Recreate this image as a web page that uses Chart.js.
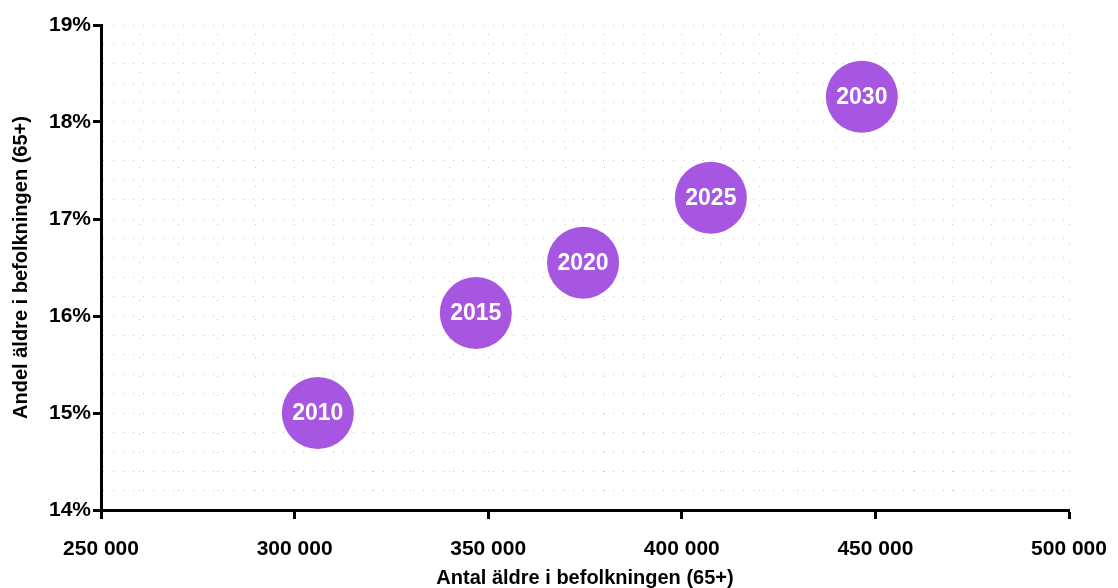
<!DOCTYPE html>
<html>
<head>
<meta charset="utf-8">
<script src="https://cdn.jsdelivr.net/npm/chart.js@4"></script>
<style>
  html, body { margin: 0; padding: 0; background: #fff; }
  #wrap { width: 1118px; height: 588px; }
</style>
</head>
<body>
<div id="wrap"><canvas id="chart"></canvas></div>
<script>
// data
const years = ['2010', '2015', '2020', '2025', '2030'];
const elderlyCount = [306000, 346800, 374500, 407500, 446500];
const elderlyShare = [15.0, 16.03, 16.55, 17.22, 18.26];

const xTitle = 'Antal äldre i befolkningen (65+)';
const yTitle = 'Andel äldre i befolkningen (65+)';

const FONT = '"Liberation Sans", Arial, sans-serif';
const purple = '#a656e0';
const dotGrey = '#c8c8c8';

function spaced(v) {
  return String(v).replace(/\B(?=(\d{3})+(?!\d))/g, ' ');
}

function isMajorX(v) { return v % 50000 === 0; }
function isMajorY(v) { return Math.abs(v - Math.round(v)) < 1e-6; }

// write the year in the middle of each bubble
const bubbleLabels = {
  id: 'bubbleLabels',
  afterDatasetsDraw(chart) {
    const ctx = chart.ctx;
    const meta = chart.getDatasetMeta(0);
    ctx.save();
    ctx.fillStyle = '#fff';
    ctx.font = 'bold 23px ' + FONT;
    ctx.textAlign = 'center';
    ctx.textBaseline = 'middle';
    meta.data.forEach((el, i) => {
      ctx.fillText(years[i], el.x, el.y + 1);
    });
    ctx.restore();
  }
};

const ctx = document.getElementById('chart').getContext('2d');
new Chart(ctx, {
  type: 'scatter',
  data: {
    datasets: [{
      label: 'Äldre',
      data: elderlyCount.map((v, i) => ({ x: v, y: elderlyShare[i] })),
      backgroundColor: purple,
      borderWidth: 0,
      pointRadius: 36,
      pointHoverRadius: 36
    }]
  },
  options: {
    responsive: true,
    maintainAspectRatio: false,
    animation: false,
    layout: { autoPadding: false, padding: { top: 25, right: 49, left: 0, bottom: 0 } },
    plugins: {
      legend: { display: false },
      tooltip: { enabled: false }
    },
    scales: {
      x: {
        type: 'linear',
        min: 250000,
        max: 500000,
        afterFit: (s) => {
          s.height = 78;
          s.paddingLeft = 0;
          s.paddingRight = 0;
        },
        ticks: {
          stepSize: 10000,
          autoSkip: false,
          maxRotation: 0,
          padding: 18,
          color: '#000',
          font: { family: FONT, size: 21, weight: 'bold' },
          callback: (v) => isMajorX(v) ? spaced(v) : ''
        },
        grid: {
          color: (c) => c.index === 0 ? 'transparent' : dotGrey,
          lineWidth: 1,
          tickLength: 9,
          tickWidth: 3,
          tickColor: (c) => c.tick && isMajorX(c.tick.value) ? '#000' : 'transparent'
        },
        border: { display: true, color: '#000', width: 3, dash: [1, 18], dashOffset: 10 },
        title: {
          display: true,
          text: xTitle,
          color: '#000',
          font: { family: FONT, size: 20, weight: 'bold', lineHeight: 1.0 },
          padding: { top: 0, bottom: 0 }
        }
      },
      y: {
        type: 'linear',
        min: 14,
        max: 19,
        afterFit: (s) => { s.width = 101; },
        ticks: {
          stepSize: 0.2,
          autoSkip: false,
          padding: 2,
          color: '#000',
          font: { family: FONT, size: 21, weight: 'bold' },
          callback: (v) => isMajorY(v) ? Math.round(v) + '%' : ''
        },
        grid: {
          color: (c) => c.index === 0 ? 'transparent' : dotGrey,
          lineWidth: 1,
          tickLength: 8,
          tickWidth: 3,
          tickColor: (c) => c.tick && isMajorY(c.tick.value) ? '#000' : 'transparent'
        },
        border: { display: true, color: '#000', width: 3, dash: [1, 9] },
        title: {
          display: true,
          text: yTitle,
          color: '#000',
          font: { family: FONT, size: 20, weight: 'bold' },
          padding: { top: 9, bottom: 0 }
        }
      }
    }
  },
  plugins: [bubbleLabels]
});
</script>
</body>
</html>
